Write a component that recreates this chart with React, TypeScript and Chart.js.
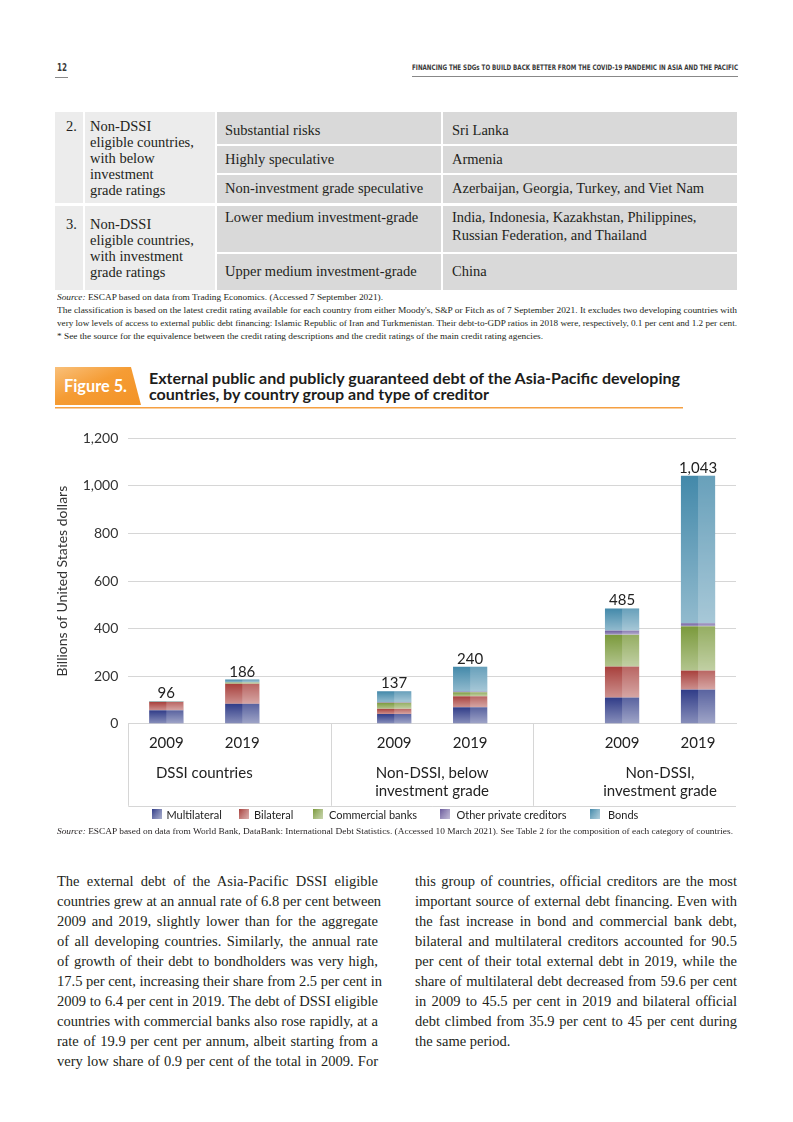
import React, { useEffect, useLayoutEffect, useRef } from "react";
import { Chart, registerables } from "chart.js";
Chart.register(...registerables);

// ---------- DATA ----------
const categories = ["2009", "2019", "", "2009", "2019", "", "2009", "2019"];
const groupLabels = [["DSSI countries"], ["Non-DSSI, below", "investment grade"], ["Non-DSSI,", "investment grade"]];
const groupIndices = [[0, 1], [3, 4], [6, 7]];
const seriesNames = ["Multilateral", "Bilateral", "Commercial banks", "Other private creditors", "Bonds"];
const multilateral = [57.2, 84.6, null, 41, 70, null, 111, 144];
const bilateral = [34.5, 83.7, null, 22, 46, null, 130, 80];
const commercialBanks = [0.9, 5.3, null, 26, 17, null, 133, 186];
const otherPrivate = [1.0, 0.5, null, 3, 3, null, 18, 13];
const bonds = [2.4, 11.9, null, 45, 104, null, 93, 620];
const totals = [96, 186, null, 137, 240, null, 485, 1043];
const yMin = 0;
const yMax = 1200;
const yStep = 200;
const seriesColors = ["#303c88", "#a8403c", "#7b9a3c", "#6a5a9c", "#4389aa"];

const FONT = "Lato, 'Noto Sans', sans-serif";
const SERIF = "'Liberation Serif', 'Times New Roman', serif";

type TxtProps = { x: number; y: number; size: number; children: React.ReactNode; style?: React.CSSProperties; w?: number; justify?: boolean };
function Txt({ x, y, size, children, style, w, justify }: TxtProps) {
  const lh = size * 1.25;
  return (
    <div
      style={{
        position: "absolute",
        left: x,
        top: y - lh / 2,
        lineHeight: `${lh}px`,
        fontSize: size,
        whiteSpace: "nowrap",
        width: w,
        textAlign: justify ? "justify" : undefined,
        textAlignLast: justify ? "justify" : undefined,
        color: "#231f20",
        fontFamily: SERIF,
        ...style,
      }}
    >
      {children}
    </div>
  );
}

function Box({ x, y, w, h, bg }: { x: number; y: number; w: number; h: number; bg: string }) {
  return <div style={{ position: "absolute", left: x, top: y, width: w, height: h, background: bg }} />;
}

// Text that is horizontally scaled to exactly fill a target width
function FitText({ x, y, w, size, children, family, weight, color }: { x: number; y: number; w: number; size: number; children: React.ReactNode; family?: string; weight?: number; color?: string }) {
  const ref = useRef<HTMLSpanElement>(null);
  useLayoutEffect(() => {
    const el = ref.current;
    if (!el) return;
    el.style.transform = "none";
    const nat = el.getBoundingClientRect().width;
    if (nat > 0) el.style.transform = `scaleX(${w / nat})`;
  }, [w]);
  return (
    <span
      ref={ref}
      style={{
        position: "absolute",
        left: x,
        top: y - size * 0.625,
        fontSize: size,
        lineHeight: `${size * 1.25}px`,
        fontFamily: family || "'DejaVu Sans Condensed', 'DejaVu Sans', sans-serif",
        fontWeight: weight || 400,
        whiteSpace: "nowrap",
        transformOrigin: "left center",
        color: color || "#231f20",
      }}
    >
      {children}
    </span>
  );
}

const leftCol = [
  "The external debt of the Asia-Pacific DSSI eligible",
  "countries grew at an annual rate of 6.8 per cent between",
  "2009 and 2019, slightly lower than for the aggregate",
  "of all developing countries. Similarly, the annual rate",
  "of growth of their debt to bondholders was very high,",
  "17.5 per cent, increasing their share from 2.5 per cent in",
  "2009 to 6.4 per cent in 2019. The debt of DSSI eligible",
  "countries with commercial banks also rose rapidly, at a",
  "rate of 19.9 per cent per annum, albeit starting from a",
  "very low share of 0.9 per cent of the total in 2009. For",
];
const rightCol = [
  "this group of countries, official creditors are the most",
  "important source of external debt financing. Even with",
  "the fast increase in bond and commercial bank debt,",
  "bilateral and multilateral creditors accounted for 90.5",
  "per cent of their total external debt in 2019, while the",
  "share of multilateral debt decreased from 59.6 per cent",
  "in 2009 to 45.5 per cent in 2019 and bilateral official",
  "debt climbed from 35.9 per cent to 45 per cent during",
  "the same period.",
];

function ChartBox() {
  const canvasRef = useRef<HTMLCanvasElement>(null);
  useEffect(() => {
    const canvas = canvasRef.current;
    if (!canvas) return;
    const overlay = {
      id: "barShade",
      afterDatasetsDraw(chart: any) {
        const ctx = chart.ctx;
        ctx.save();
        chart.data.datasets.forEach((_: any, di: number) => {
          const meta = chart.getDatasetMeta(di);
          meta.data.forEach((el: any) => {
            const { x, y, base, width } = el.getProps(["x", "y", "base", "width"], true);
            if (![x, y, base, width].every((v: number) => Number.isFinite(v))) return;
            const top = Math.min(y, base);
            const bot = Math.max(y, base);
            const h = bot - top;
            if (h <= 0) return;
            const left = x - width / 2;
            const g = ctx.createLinearGradient(0, top, 0, bot);
            g.addColorStop(0, "rgba(255,255,255,0)");
            g.addColorStop(1, "rgba(255,255,255,0.42)");
            ctx.fillStyle = g;
            ctx.fillRect(left, top, width, h);
            ctx.fillStyle = "rgba(255,255,255,0.2)";
            ctx.fillRect(x, top, width / 2, h);
          });
        });
        ctx.restore();
      },
    };
    const annot = {
      id: "annot",
      afterDraw(chart: any) {
        const ctx = chart.ctx;
        const xs = chart.scales.x;
        const ys = chart.scales.y;
        const a = chart.chartArea;
        ctx.save();
        // totals
        ctx.font = `15px ${FONT}`;
        ctx.fillStyle = "#222";
        ctx.textAlign = "center";
        ctx.textBaseline = "alphabetic";
        totals.forEach((t, i) => {
          if (t == null) return;
          ctx.fillText(t.toLocaleString("en-US"), xs.getPixelForValue(i), ys.getPixelForValue(t) - 3);
        });
        // category box lines
        const boxBottom = a.bottom + 82;
        ctx.strokeStyle = "#d6d6d6";
        ctx.lineWidth = 1;
        ctx.beginPath();
        const wdt = a.right - a.left;
        [a.left, a.left + wdt / 3, a.left + (2 * wdt) / 3].forEach((px) => {
          ctx.moveTo(Math.round(px) + 0.5, a.bottom);
          ctx.lineTo(Math.round(px) + 0.5, boxBottom);
        });
        ctx.moveTo(a.left, Math.round(boxBottom) + 0.5);
        ctx.lineTo(a.right, Math.round(boxBottom) + 0.5);
        ctx.stroke();
        // group labels
        ctx.textBaseline = "middle";
        ctx.font = `15px ${FONT}`;
        groupLabels.forEach((lines, gi) => {
          const [i0, i1] = groupIndices[gi];
          const cx = (xs.getPixelForValue(i0) + xs.getPixelForValue(i1)) / 2;
          lines.forEach((l, li) => ctx.fillText(l, cx, a.bottom + 49 + li * 18));
        });
        ctx.restore();
      },
    };
    const mk = (label: string, data: (number | null)[], color: string) => ({
      label,
      data,
      backgroundColor: color,
      borderWidth: 0,
      categoryPercentage: 0.9,
      barPercentage: 0.5,
    });
    const chart = new Chart(canvas, {
      type: "bar",
      data: {
        labels: categories,
        datasets: [
          mk(seriesNames[0], multilateral, seriesColors[0]),
          mk(seriesNames[1], bilateral, seriesColors[1]),
          mk(seriesNames[2], commercialBanks, seriesColors[2]),
          mk(seriesNames[3], otherPrivate, seriesColors[3]),
          mk(seriesNames[4], bonds, seriesColors[4]),
        ] as any,
      },
      options: {
        animation: false,
        responsive: true,
        maintainAspectRatio: false,
        layout: { padding: { left: 0, right: 24, top: 7, bottom: 0 } },
        font: { family: FONT },
        plugins: { legend: { display: false }, tooltip: { enabled: false } },
        scales: {
          x: {
            stacked: true,
            grid: { display: false, drawTicks: false },
            border: { display: true, color: "#d6d6d6" },
            ticks: { color: "#222", font: { size: 15, family: FONT }, padding: 10, maxRotation: 0, autoSkip: false },
            afterFit: (s: any) => {
              s.height = 111.7;
            },
          },
          y: {
            stacked: true,
            min: yMin,
            max: yMax,
            ticks: {
              stepSize: yStep,
              color: "#333",
              font: { size: 14, family: FONT },
              padding: 10,
              callback: (v: any) => Number(v).toLocaleString("en-US"),
            },
            grid: { color: "#d6d6d6", drawTicks: false },
            border: { display: false },
            title: {
              display: true,
              text: "Billions of United States dollars",
              color: "#333",
              font: { size: 14, family: FONT },
              padding: { top: 13.6, bottom: 0 },
            },
            afterFit: (s: any) => {
              s.width = 88.3;
            },
          },
        },
      } as any,
      plugins: [overlay, annot],
    });
    return () => chart.destroy();
  }, []);
  return (
    <div style={{ position: "absolute", left: 40, top: 419.5, width: 720, height: 415.5 }}>
      <canvas ref={canvasRef} />
    </div>
  );
}

const legendPos = [
  { sx: 152, tx: 166.5 },
  { sx: 239, tx: 254 },
  { sx: 313, tx: 329 },
  { sx: 440, tx: 456.5 },
  { sx: 590, tx: 608 },
];

export default function App() {
  const tableLeft = "#ececec";
  const tableRight = "#d9d9d9";
  return (
    <div style={{ position: "absolute", left: 0, top: 0, width: 793, height: 1122, background: "#fff", overflow: "hidden" }}>
      {/* header */}
      <FitText x={57} y={68} w={10} size={11} weight={700} color="#3a3a3a">12</FitText>
      <Box x={55} y={77} w={13} h={1} bg="#888" />
      <FitText x={412} y={68} w={326} size={7.5} weight={700} color="#3a3a3a">
        FINANCING THE SDGs TO BUILD BACK BETTER FROM THE COVID-19 PANDEMIC IN ASIA AND THE PACIFIC
      </FitText>
      <Box x={412} y={76} w={326} h={1} bg="#888" />

      {/* table */}
      <Box x={55} y={112} w={28} h={91} bg={tableLeft} />
      <Box x={85} y={112} w={130} h={91} bg={tableLeft} />
      <Box x={55} y={206} w={28} h={84} bg={tableLeft} />
      <Box x={85} y={206} w={130} h={84} bg={tableLeft} />
      {[
        [112, 32],
        [146, 27],
        [175, 28],
        [206, 46],
        [254, 36],
      ].map(([y, h], i) => (
        <React.Fragment key={i}>
          <Box x={217} y={y} w={224} h={h} bg={tableRight} />
          <Box x={443} y={y} w={294} h={h} bg={tableRight} />
        </React.Fragment>
      ))}
      <Txt x={66} y={126} size={14.5}>2.</Txt>
      {["Non-DSSI", "eligible countries,", "with below", "investment", "grade ratings"].map((t, i) => (
        <Txt key={t} x={90} y={126 + i * 16} size={14.5}>{t}</Txt>
      ))}
      <Txt x={66} y={224} size={14.5}>3.</Txt>
      {["Non-DSSI", "eligible countries,", "with investment", "grade ratings"].map((t, i) => (
        <Txt key={t} x={90} y={224 + i * 16} size={14.5}>{t}</Txt>
      ))}
      <Txt x={225} y={130} size={14.5}>Substantial risks</Txt>
      <Txt x={225} y={159} size={14.5}>Highly speculative</Txt>
      <Txt x={225} y={188} size={14.5}>Non-investment grade speculative</Txt>
      <Txt x={225} y={217} size={14.5}>Lower medium investment-grade</Txt>
      <Txt x={225} y={271} size={14.5}>Upper medium investment-grade</Txt>
      <Txt x={452} y={130} size={14.5}>Sri Lanka</Txt>
      <Txt x={452} y={159} size={14.5}>Armenia</Txt>
      <Txt x={452} y={188} size={14.5}>Azerbaijan, Georgia, Turkey, and Viet Nam</Txt>
      <Txt x={452} y={217} size={14.5}>India, Indonesia, Kazakhstan, Philippines,</Txt>
      <Txt x={452} y={235} size={14.5}>Russian Federation, and Thailand</Txt>
      <Txt x={452} y={271} size={14.5}>China</Txt>

      {/* table notes */}
      <FitText x={57} y={298} w={326} size={9.2} family={SERIF}>
        <i>Source:</i> ESCAP based on data from Trading Economics. (Accessed 7 September 2021).
      </FitText>
      <FitText x={57} y={311} w={680} size={9.2} family={SERIF}>
        The classification is based on the latest credit rating available for each country from either Moody's, S&amp;P or Fitch as of 7 September 2021. It excludes two developing countries with
      </FitText>
      <FitText x={57} y={324} w={680} size={9.2} family={SERIF}>
        very low levels of access to external public debt financing: Islamic Republic of Iran and Turkmenistan. Their debt-to-GDP ratios in 2018 were, respectively, 0.1 per cent and 1.2 per cent.
      </FitText>
      <FitText x={57} y={337} w={486} size={9.2} family={SERIF}>
        * See the source for the equivalence between the credit rating descriptions and the credit ratings of the main credit rating agencies.
      </FitText>

      {/* figure heading */}
      <svg style={{ position: "absolute", left: 0, top: 0 }} width={793} height={420}>
        <defs>
          <linearGradient id="tabg" x1="0" y1="0" x2="1" y2="1">
            <stop offset="0" stopColor="#f9c07a" />
            <stop offset="0.45" stopColor="#f59c34" />
            <stop offset="1" stopColor="#f39326" />
          </linearGradient>
        </defs>
        <polygon points="55,367 131,367 141,405 55,405" fill="url(#tabg)" />
        <rect x={55} y={407} width={628} height={1.5} fill="#f5a042" />
      </svg>
      <FitText x={64} y={386} w={63} size={16.5} family={FONT} weight={700} color="#fff">Figure 5.</FitText>
      <FitText x={149} y={379} w={531} size={15.5} family={FONT} weight={700} color="#1d1d1b">
        External public and publicly guaranteed debt of the Asia-Pacific developing
      </FitText>
      <FitText x={149} y={395} w={340} size={15.5} family={FONT} weight={700} color="#1d1d1b">
        countries, by country group and type of creditor
      </FitText>

      <ChartBox />

      {/* legend */}
      {seriesNames.map((n, i) => (
        <React.Fragment key={n}>
          <div
            style={{
              position: "absolute",
              left: legendPos[i].sx,
              top: 809,
              width: 10,
              height: 10,
              background: `linear-gradient(to bottom, rgba(255,255,255,0), rgba(255,255,255,0.3)), linear-gradient(to right, ${seriesColors[i]}, ${seriesColors[i]}99)`,
            }}
          />
          <Txt x={legendPos[i].tx} y={815} size={11} style={{ fontFamily: FONT, color: "#222" }}>{n}</Txt>
        </React.Fragment>
      ))}

      {/* figure source */}
      <FitText x={57} y={832} w={676} size={9.2} family={SERIF}>
        <i>Source:</i> ESCAP based on data from World Bank, DataBank: International Debt Statistics. (Accessed 10 March 2021). See Table 2 for the composition of each category of countries.
      </FitText>

      {/* body text */}
      {leftCol.map((l, i) => (
        <Txt key={"l" + i} x={57} y={881 + i * 20} size={14.5} w={321} justify>{l}</Txt>
      ))}
      {rightCol.map((l, i) => (
        <Txt key={"r" + i} x={415} y={881 + i * 20} size={14.5} w={322} justify={i < rightCol.length - 1}>{l}</Txt>
      ))}
    </div>
  );
}
